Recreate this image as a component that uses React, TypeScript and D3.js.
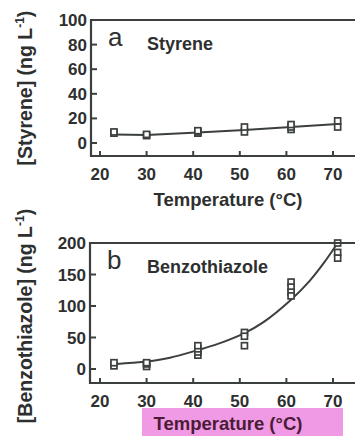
import * as d3 from "d3";

// temperatures (°C) and replicate concentrations (ng/L)
const styreneT = [23, 23, 30, 30, 41, 41, 41, 51, 51, 61, 61, 61, 71, 71];
const styreneC = [8, 9, 6, 7, 8, 9, 10, 9, 13, 11, 13, 15, 13, 18];
const styreneLineT = [23, 30, 41, 51, 61, 71];
const styreneLineC = [7, 6.5, 8.5, 10.5, 13, 15.5];

const benzoT = [23, 23, 30, 30, 30, 41, 41, 41, 41, 51, 51, 51, 61, 61, 61, 61, 71, 71, 71];
const benzoC = [5, 10, 4, 8, 10, 22, 27, 32, 37, 58, 52, 37, 138, 130, 122, 116, 200, 185, 176];
const benzoFitT = [23, 27, 30, 35, 41, 45, 51, 55, 61, 65, 68, 71];
const benzoFitC = [8, 10, 12, 18, 30, 39, 57, 74, 110, 140, 168, 200];

const xTicks = [20, 30, 40, 50, 60, 70];
const styreneTicks = [0, 20, 40, 60, 80, 100];
const benzoTicks = [0, 50, 100, 150, 200];

const ink = "#3b403d";
const txt = "#2e302f";
const font = "'Liberation Sans', Arial, sans-serif";

type PanelProps = {
  letter: string;
  name: string;
  yTitle: string;
  yDomain: [number, number];
  yRange: [number, number];
  bottom: number;
  yTicks: number[];
  left: number;
  pts: [number[], number[]];
  line: [number[], number[]];
  smooth: boolean;
  xLabelY: number;
  titleY: number;
  yTitleY: number;
  highlight?: boolean;
};

function Panel(p: PanelProps) {
  const x = d3.scaleLinear().domain([20, 70]).range([100, 333]);
  const y = d3.scaleLinear().domain(p.yDomain).range(p.yRange);
  const top = p.yRange[1];
  const bottom = p.bottom;
  const lineGen = d3
    .line<number>()
    .x((i) => x(p.line[0][i]))
    .y((i) => y(p.line[1][i]))
    .curve(p.smooth ? d3.curveCatmullRom.alpha(0.5) : d3.curveLinear);
  const idx = p.line[0].map((_, i) => i);
  return (
    <g>
      {p.highlight && (
        <rect x={142} y={p.titleY - 22} width={201} height={40} fill="#ee8fe2" opacity={0.9} />
      )}
      <path d={lineGen(idx) ?? ""} fill="none" stroke={ink} strokeWidth={2} />
      {p.pts[0].map((t, i) => (
        <rect
          key={i}
          x={x(t) - 3}
          y={y(p.pts[1][i]) - 3}
          width={6}
          height={6}
          fill="#fff"
          stroke={ink}
          strokeWidth={1.7}
        />
      ))}
      <path
        d={`M355,${top}H${p.left}V${bottom}H355`}
        fill="none"
        stroke={ink}
        strokeWidth={2.2}
      />
      {p.yTicks.map((v) => (
        <g key={v}>
          <line x1={p.left} x2={p.left + 6} y1={y(v)} y2={y(v)} stroke={ink} strokeWidth={2} />
          <text
            x={p.left - 4}
            y={y(v) + 6}
            textAnchor="end"
            fontSize={17}
            fontWeight="bold"
            fill={txt}
            fontFamily={font}
          >
            {v}
          </text>
        </g>
      ))}
      {xTicks.map((v) => (
        <g key={v}>
          <line x1={x(v)} x2={x(v)} y1={bottom} y2={bottom - 5} stroke={ink} strokeWidth={2} />
          <text
            x={x(v)}
            y={p.xLabelY}
            textAnchor="middle"
            fontSize={17}
            fontWeight="bold"
            fill={txt}
            fontFamily={font}
          >
            {v}
          </text>
        </g>
      ))}
      <text x={p.left + 17} y={top + 26} fontSize={26} fill={txt} fontFamily={font}>
        {p.letter}
      </text>
      <text x={147} y={top + 30} fontSize={18} fontWeight="bold" fill={txt} fontFamily={font}>
        {p.name}
      </text>
      <text
        x={228}
        y={p.titleY}
        textAnchor="middle"
        fontSize={18.5}
        fontWeight="bold"
        fill={p.highlight ? "#4a1c36" : txt}
        fontFamily={font}
      >
        Temperature (°C)
      </text>
      <text
        transform={`translate(32,${p.yTitleY}) rotate(-90)`}
        textAnchor="middle"
        fontSize={19.5}
        fontWeight="bold"
        fill={txt}
        fontFamily={font}
      >
        {p.yTitle}
        <tspan fontSize={12} dy={-8}>-1</tspan>
        <tspan dy={8}>)</tspan>
      </text>
    </g>
  );
}

export default function App() {
  return (
    <svg
      width={355}
      height={436}
      style={{ position: "absolute", left: 0, top: 0, background: "#fff" }}
    >
      <Panel
        letter="a"
        name="Styrene"
        yTitle="[Styrene] (ng L"
        yDomain={[0, 100]}
        yRange={[143, 20]}
        bottom={156}
        yTicks={styreneTicks}
        left={91}
        pts={[styreneT, styreneC]}
        line={[styreneLineT, styreneLineC]}
        smooth={false}
        xLabelY={180}
        titleY={206}
        yTitleY={88}
      />
      <Panel
        letter="b"
        name="Benzothiazole"
        yTitle="[Benzothiazole] (ng L"
        yDomain={[0, 200]}
        yRange={[369, 243]}
        bottom={383}
        yTicks={benzoTicks}
        left={90}
        pts={[benzoT, benzoC]}
        line={[benzoFitT, benzoFitC]}
        smooth={true}
        xLabelY={407}
        titleY={430}
        yTitleY={316}
        highlight
      />
    </svg>
  );
}
